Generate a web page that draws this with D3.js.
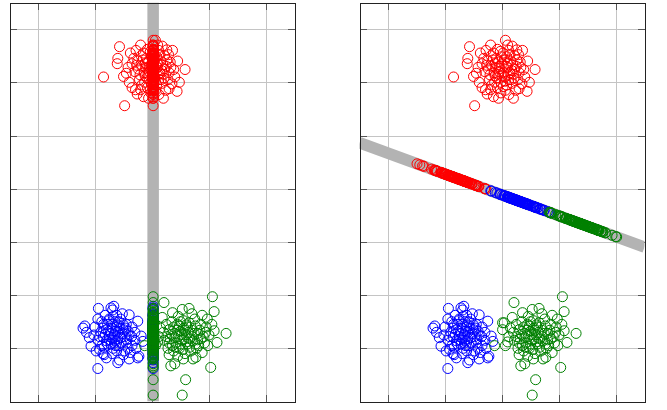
<!DOCTYPE html>
<html>
<head>
<meta charset="utf-8">
<script src="https://cdn.jsdelivr.net/npm/d3@7"></script>
<style>
  body { margin: 0; background: #fff; }
  .grid line { stroke: #c4c4c4; stroke-width: 1; shape-rendering: crispEdges; }
  .grid path { display: none; }
  .ticks line { stroke: #555; stroke-width: 1; shape-rendering: crispEdges; }
  .ticks path { display: none; }
  .frame { fill: none; stroke: #222; stroke-width: 1; shape-rendering: crispEdges; }
</style>
</head>
<body>
<svg id="chart" width="667" height="410"></svg>
<script>
// cluster points (data units)
const red = [
  [-0.57,2.67],[0.06,2.79],[-0.85,2.10],[0.58,2.24],[-0.48,1.56],[-0.61,2.35],[-0.60,2.45],
  [-0.38,2.55],[-0.45,2.17],[-0.50,2.11],[-0.29,1.86],[-0.15,1.73],[-0.06,1.70],[0.20,1.70],
  [0.44,1.83],[0.35,1.97],[0.26,2.61],[0.29,2.52],[0.38,2.24],[0.12,1.77],[-0.20,1.86],
  [-0.25,2.40],[-0.18,2.30],[-0.10,2.45],[-0.05,2.20],[0.00,2.35],[0.05,2.10],[0.10,2.28],
  [0.15,2.40],[0.20,2.15],[0.25,2.30],[-0.22,2.05],[-0.12,2.12],[-0.02,2.00],[0.08,1.95],
  [0.18,1.98],[0.28,2.05],[-0.30,2.20],[-0.15,2.55],[0.02,2.55],[0.12,2.60],[0.22,2.50],
  [-0.08,2.62],[-0.35,2.35],[-0.28,2.60],[0.32,2.38],[0.40,2.10],[-0.40,2.00],[-0.18,1.95],
  [0.06,1.85],[0.30,1.88],[-0.05,2.30],[0.04,2.42],[0.14,2.18],[-0.12,2.35],[-0.24,2.25],
  [0.22,2.25],[0.00,2.12],[-0.08,1.90],[0.16,2.05],[-0.32,2.45],[0.10,2.70],[-0.20,2.70],
  [0.36,2.60],[0.45,2.40],[-0.42,2.28],[0.24,1.85],[-0.02,1.80],[-0.35,1.90],[0.48,2.00],
  [0.08,2.48],[-0.14,2.18],[0.30,2.18],[-0.26,1.78],[0.18,2.68],
  [-0.04,2.26],[0.03,2.18],[0.09,2.36],[-0.09,2.08],[0.12,2.05],[-0.16,2.42],[0.19,2.33],
  [-0.01,2.48],[0.06,2.02],[-0.11,2.27],[0.26,2.42],[-0.21,2.14],[0.14,2.52],[-0.06,2.38],
  [0.02,1.92],[0.21,2.08],[-0.27,2.32],[0.11,2.15],[-0.13,2.00],[0.33,2.28],[-0.03,2.58],
  [0.17,2.22],[-0.19,2.50],[0.07,2.30],[-0.07,2.15]
];
const blue = [
  [-0.95,-3.38],[-0.60,-3.27],[-0.57,-3.22],[-1.21,-2.62],[-1.18,-2.58],[-1.15,-2.70],
  [-0.94,-2.25],[-0.72,-2.24],[-0.67,-2.21],[-0.69,-2.28],[-0.40,-2.37],[-0.25,-2.49],
  [-0.16,-2.87],[-0.19,-2.77],[-0.25,-3.18],[-0.23,-3.15],[-0.84,-3.12],[-0.86,-3.10],
  [-1.07,-2.96],[-1.10,-2.80],
  [-0.95,-2.45],[-0.85,-2.55],[-0.75,-2.45],[-0.65,-2.50],[-0.55,-2.45],[-0.45,-2.55],
  [-0.35,-2.60],[-0.90,-2.70],[-0.80,-2.65],[-0.70,-2.62],[-0.60,-2.70],[-0.50,-2.65],
  [-0.40,-2.75],[-0.30,-2.85],[-0.95,-2.85],[-0.85,-2.80],[-0.75,-2.78],[-0.65,-2.85],
  [-0.55,-2.80],[-0.45,-2.90],[-0.35,-2.95],[-0.88,-2.95],[-0.78,-2.92],[-0.68,-3.00],
  [-0.58,-2.95],[-0.48,-3.05],[-0.38,-3.08],[-1.00,-2.60],[-0.62,-2.38],[-0.82,-2.38],
  [-0.52,-2.35],[-0.72,-2.72],[-0.62,-2.60],[-0.42,-2.68],[-1.02,-2.75],[-0.92,-3.02],
  [-0.70,-3.10],[-0.50,-3.12],[-0.30,-2.70],[-0.28,-3.00],[-0.78,-2.55],[-0.58,-2.58],
  [-0.68,-2.40],[-0.88,-2.50],[-0.48,-2.78],[-0.98,-3.05],[-0.80,-3.18],[-0.40,-3.20],
  [-0.66,-2.90],[-0.74,-2.84],
  [-0.64,-2.68],[-0.70,-2.55],[-0.56,-2.62],[-0.76,-2.68],[-0.60,-2.82],[-0.52,-2.72],
  [-0.82,-2.74],[-0.72,-2.92],[-0.46,-2.62],[-0.66,-2.75],[-0.86,-2.62],[-0.54,-2.90],
  [-0.62,-3.05],[-0.44,-2.84],[-0.76,-2.48],[-0.58,-2.50],[-0.92,-2.78],[-0.36,-2.78],
  [-0.70,-2.80],[-0.80,-2.86],[-0.50,-2.56],[-0.64,-2.95],[-0.84,-2.98],[-0.42,-3.00]
];
const green = [
  [1.06,-2.03],[0.21,-2.14],[1.09,-2.31],[1.30,-2.72],[0.04,-2.52],[1.03,-3.36],[0.59,-3.59],
  [0.53,-3.88],[0.33,-3.33],[0.40,-3.29],[0.77,-3.17],[0.06,-2.95],[0.10,-2.88],[1.14,-2.89],
  [1.09,-2.67],[0.97,-2.45],[0.53,-2.27],[0.65,-2.25],[0.36,-2.33],[0.18,-2.42],[0.01,-2.52],
  [0.01,-2.65],[-0.13,-2.95],
  [0.25,-2.55],[0.35,-2.50],[0.45,-2.55],[0.55,-2.48],[0.65,-2.52],[0.75,-2.45],[0.85,-2.55],
  [0.95,-2.60],[0.20,-2.70],[0.30,-2.65],[0.40,-2.72],[0.50,-2.68],[0.60,-2.75],[0.70,-2.66],
  [0.80,-2.72],[0.90,-2.78],[1.00,-2.75],[0.22,-2.85],[0.32,-2.82],[0.42,-2.90],[0.52,-2.85],
  [0.62,-2.92],[0.72,-2.86],[0.82,-2.95],[0.92,-2.90],[0.28,-3.00],[0.38,-3.05],[0.48,-3.00],
  [0.58,-3.10],[0.68,-3.05],[0.78,-3.00],[0.88,-3.08],[0.15,-2.62],[0.46,-2.40],[0.70,-2.35],
  [0.88,-2.38],[0.56,-2.62],[0.66,-2.82],[0.46,-2.78],[0.76,-2.58],[0.36,-2.95],[0.98,-2.95],
  [0.55,-3.20],[0.45,-3.15],[1.05,-2.55],[0.12,-2.78],[0.62,-2.60],[0.86,-2.82],[0.30,-3.12],
  [0.72,-3.20],
  [0.52,-2.74],[0.58,-2.66],[0.44,-2.66],[0.64,-2.70],[0.50,-2.92],[0.40,-2.80],[0.70,-2.78],
  [0.56,-2.82],[0.34,-2.74],[0.76,-2.92],[0.60,-2.56],[0.48,-2.58],[0.26,-2.78],[0.84,-2.66],
  [0.66,-2.98],[0.42,-2.98],[0.54,-3.02],[0.74,-2.72],[0.38,-2.60],[0.94,-2.70],[0.60,-2.88],
  [0.30,-2.90],[0.80,-2.84],[0.50,-2.50]
];

const xTicks = [-2, -1, 0, 1, 2];
const yTicks = [-3, -2, -1, 0, 1, 2, 3];

// projection lines: two end points each, in data units
const lineLeft = [[0.02, -4], [0.02, 3.5]];
const lineRight = [[-2.5, 0.864], [2.5, -1.099]];

const series = [
  { pts: red, color: '#ff0000' },
  { pts: blue, color: '#0000ff' },
  { pts: green, color: '#008000' }
];

// config
const W = 285, H = 399;
const RADIUS = 5;
const svg = d3.select('#chart');
const x = d3.scaleLinear().domain([-2.5, 2.5]).range([0, W]);
const y = d3.scaleLinear().domain([-4, 3.5]).range([H, 0]);

// orthogonal projection of p onto the line through a and b
const project = (p, line) => {
  const [a, b] = line;
  const dx = b[0] - a[0], dy = b[1] - a[1];
  const t = ((p[0] - a[0]) * dx + (p[1] - a[1]) * dy) / (dx * dx + dy * dy);
  return [a[0] + t * dx, a[1] + t * dy];
};

const drawPanel = (left, top, line, id) => {
  const g = svg.append('g').attr('transform', 'translate(' + left + ',' + top + ')');

  g.append('clipPath').attr('id', id)
    .append('rect').attr('width', W).attr('height', H);

  g.append('g').attr('class', 'grid')
    .attr('transform', 'translate(0,' + H + ')')
    .call(d3.axisBottom(x).tickValues(xTicks).tickSize(-H).tickFormat(''));
  g.append('g').attr('class', 'grid')
    .call(d3.axisLeft(y).tickValues(yTicks).tickSize(-W).tickFormat(''));

  // inward tick marks on all four sides
  g.append('g').attr('class', 'ticks')
    .call(d3.axisLeft(y).tickValues(yTicks).tickSize(-7).tickFormat(''));
  g.append('g').attr('class', 'ticks')
    .attr('transform', 'translate(' + W + ',0)')
    .call(d3.axisRight(y).tickValues(yTicks).tickSize(-7).tickFormat(''));
  g.append('g').attr('class', 'ticks')
    .call(d3.axisTop(x).tickValues(xTicks).tickSize(-7).tickFormat(''));
  g.append('g').attr('class', 'ticks')
    .attr('transform', 'translate(0,' + H + ')')
    .call(d3.axisBottom(x).tickValues(xTicks).tickSize(-7).tickFormat(''));

  const plot = g.append('g').attr('clip-path', 'url(#' + id + ')');

  plot.append('line')
    .attr('x1', x(line[0][0])).attr('y1', y(line[0][1]))
    .attr('x2', x(line[1][0])).attr('y2', y(line[1][1]))
    .attr('stroke', '#b3b3b3')
    .attr('stroke-width', 11.5);

  series.forEach(s => {
    plot.append('g').selectAll('circle')
      .data(s.pts)
      .enter()
      .append('circle')
      .attr('cx', d => x(d[0]))
      .attr('cy', d => y(d[1]))
      .attr('r', RADIUS)
      .attr('fill', 'none')
      .attr('stroke', s.color)
      .attr('stroke-width', 1);
  });

  series.forEach(s => {
    plot.append('g').selectAll('circle')
      .data(s.pts.map(p => project(p, line)))
      .enter()
      .append('circle')
      .attr('cx', d => x(d[0]))
      .attr('cy', d => y(d[1]))
      .attr('r', RADIUS)
      .attr('fill', 'none')
      .attr('stroke', s.color)
      .attr('stroke-width', 1);
  });

  g.append('rect').attr('class', 'frame')
    .attr('x', 0.5).attr('y', 0.5)
    .attr('width', W).attr('height', H);
};

drawPanel(9.5, 2.5, lineLeft, 'clipL');
drawPanel(359.5, 2.5, lineRight, 'clipR');
</script>
</body>
</html>
